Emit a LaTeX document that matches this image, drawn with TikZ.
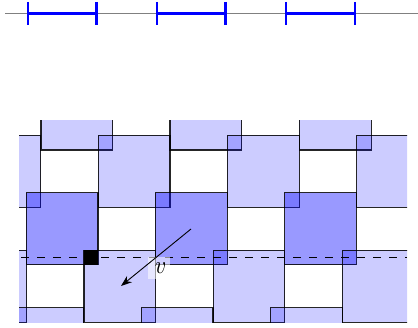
\documentclass[tikz,border=0pt]{standalone}
\usetikzlibrary{arrows.meta}
\tikzset{
  lightsq/.style={fill=blue,fill opacity=0.2,draw=black,draw opacity=0.85,line width=1.1pt},
  darksq/.style={fill=blue,fill opacity=0.4,draw=black,draw opacity=0.85,line width=1.1pt},
  bluebar/.style={draw=blue,line width=3pt},
  bluetick/.style={draw=blue,line width=2.6pt},
}
\begin{document}
\begin{tikzpicture}[x=1pt,y=-1pt]
\useasboundingbox (0,0) rectangle (418,328);
\draw[gray,line width=1pt] (5,13.4) -- (418,13.4);
\foreach \a/\b in {28/96.5,157/225.5,286/355}{
  \draw[bluebar] (\a,13.4) -- (\b,13.4);
  \draw[bluetick] (\a,2) -- (\a,25);
  \draw[bluetick] (\b,2) -- (\b,25);
}
\begin{scope}
\clip (19,121) rectangle (407,323);
\foreach \x in {41,170,299.3}{\draw[lightsq] (\x,78) rectangle +(71.8,72);}
\foreach \x in {-31,98.2,227.3,356.6}{\draw[lightsq] (\x,135.3) rectangle +(71.8,71.8);}
\foreach \x in {26.2,155.3,284.6}{\draw[darksq] (\x,192.8) rectangle +(71.8,71.8);}
\foreach \x in {-45,84,213.1,342.3}{\draw[lightsq] (\x,250.3) rectangle +(71.8,71.8);}
\foreach \x in {12,141.2,270.3}{\draw[lightsq] (\x,307.7) rectangle +(71.8,71.8);}
\fill[black] (84,250.3) rectangle (98,264.6);
\draw[black,line width=0.8pt,dash pattern=on 8pt off 8pt,dash phase=-2pt] (19,257.6) -- (407,257.6);
\end{scope}
\node[fill=white,fill opacity=0.55,minimum width=22pt,minimum height=22pt,inner sep=0pt] (lab) at (159,268) {};
\node[inner sep=0pt,xscale=2.2,yscale=2.5] (vlab) at (160.5,268.5) {$v$};
\coordinate (vs) at (191,229);
\coordinate (ve) at (121,286);
\draw[-{Stealth[length=11pt,width=8pt]},line width=0.9pt] (vs) -- (ve);
\end{tikzpicture}
\end{document}
